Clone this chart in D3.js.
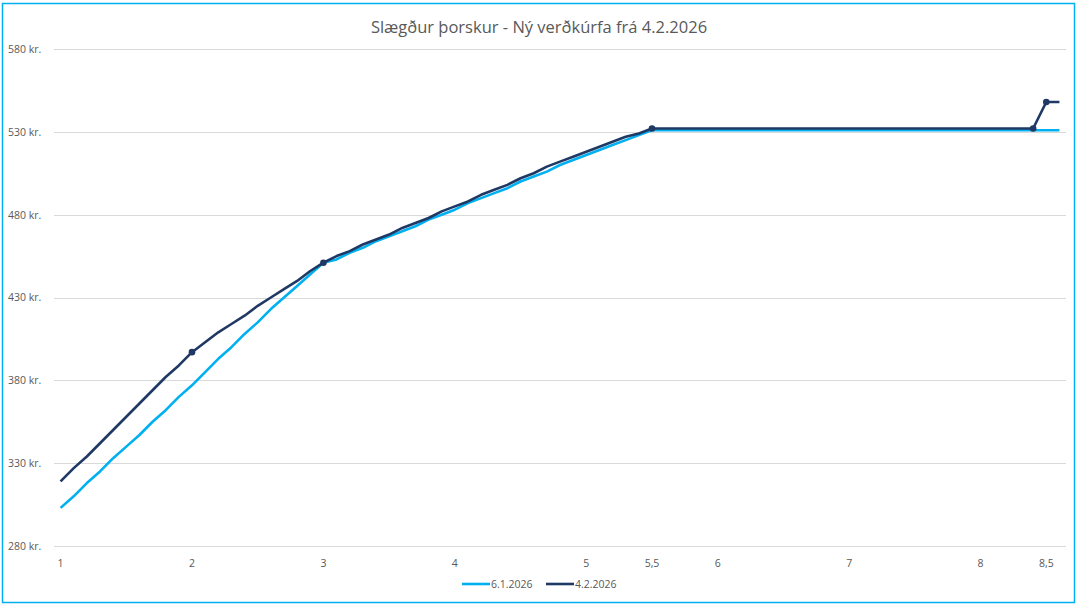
<!DOCTYPE html>
<html><head><meta charset="utf-8">
<script src="https://cdn.jsdelivr.net/npm/d3@7"></script>
<style>body{margin:0;background:#fff}svg{display:block}text{font-family:"Open Sans","Liberation Sans",sans-serif}</style>
</head><body>
<script>
const title = "Slægður þorskur - Ný verðkúrfa frá 4.2.2026";
const categories = [1.0,1.1,1.2,1.3,1.4,1.5,1.6,1.7,1.8,1.9,2.0,2.1,2.2,2.3,2.4,2.5,2.6,2.7,2.8,2.9,3.0,3.1,3.2,3.3,3.4,3.5,3.6,3.7,3.8,3.9,4.0,4.1,4.2,4.3,4.4,4.5,4.6,4.7,4.8,4.9,5.0,5.1,5.2,5.3,5.4,5.5,5.6,5.7,5.8,5.9,6.0,6.1,6.2,6.3,6.4,6.5,6.6,6.7,6.8,6.9,7.0,7.1,7.2,7.3,7.4,7.5,7.6,7.7,7.8,7.9,8.0,8.1,8.2,8.3,8.4,8.5,8.6];
const seriesNames = ["6.1.2026","4.2.2026"];
const values0601 = [303,310,318,325,333,340,347,355,362,370,377,385,393,400,408,415,423,430,437,444,451,453,457,460,464,467,470,473,477,480,483,487,490,493,496,500,503,506,510,513,516,519,522,525,528,531,531,531,531,531,531,531,531,531,531,531,531,531,531,531,531,531,531,531,531,531,531,531,531,531,531,531,531,531,531,531,531];
const values0402 = [319,327,334,342,350,358,366,374,382,389,397,403,409,414,419,425,430,435,440,446,451,455,458,462,465,468,472,475,478,482,485,488,492,495,498,502,505,509,512,515,518,521,524,527,529,532,532,532,532,532,532,532,532,532,532,532,532,532,532,532,532,532,532,532,532,532,532,532,532,532,532,532,532,532,532,548,548];
const markerCats0402 = [2.0,3.0,5.5,8.4,8.5];
const xTickValues = [1,2,3,4,5,5.5,6,7,8,8.5];
const yTickValues = [280,330,380,430,480,530,580];
const colors = ["#00b0f0","#1f3864"];

const W=1078,H=608;
const svg=d3.select("body").append("svg").attr("width",W).attr("height",H);
svg.append("rect").attr("x",2.5).attr("y",3.5).attr("width",1072).attr("height",599)
  .attr("fill","#fff").attr("stroke","#00b0f0").attr("stroke-width",1.5);

const x=d3.scaleBand().domain(categories).range([54,1066]);
const xc=v=>x(v)+x.bandwidth()/2;
const y=d3.scaleLinear().domain([280,580]).range([546,49]);

svg.append("text").attr("x",539).attr("y",33).attr("text-anchor","middle")
  .attr("font-size",16.5).attr("fill","#595959").text(title);

const yAxis=d3.axisLeft(y).tickValues(yTickValues).tickSize(-(1066-54)).tickFormat(d=>d+" kr.");
const gy=svg.append("g").attr("transform","translate(54,0)").call(yAxis);
gy.select(".domain").remove();
gy.selectAll(".tick line").attr("stroke","#d9d9d9").attr("stroke-width",1).attr("shape-rendering","crispEdges");
gy.selectAll(".tick text").attr("x",-46).attr("text-anchor","start").attr("font-size",10.5).attr("fill","#595959");

const xAxis=d3.axisBottom(x).tickValues(xTickValues).tickSize(0).tickFormat(d=>String(d).replace(".",","));
const gx=svg.append("g").attr("transform","translate(0,546)").call(xAxis);
gx.select(".domain").remove();
gx.selectAll(".tick text").attr("dy",0).attr("y",21).attr("font-size",10.5).attr("fill","#595959");

const line=d3.line().x((d,i)=>xc(categories[i])).y(d=>y(d));
[values0601,values0402].forEach((vals,k)=>{
  svg.append("path").datum(vals).attr("d",line).attr("fill","none")
    .attr("stroke",colors[k]).attr("stroke-width",2.6).attr("stroke-linejoin","round");
});
svg.selectAll("circle.m").data(markerCats0402).enter().append("circle")
  .attr("cx",d=>xc(d)).attr("cy",d=>y(values0402[categories.indexOf(d)]))
  .attr("r",3.3).attr("fill",colors[1]);

const lg=svg.append("g");
const lx=[462,546];
seriesNames.forEach((n,k)=>{
  lg.append("line").attr("x1",lx[k]).attr("x2",lx[k]+28).attr("y1",584).attr("y2",584)
    .attr("stroke",colors[k]).attr("stroke-width",2.6);
  lg.append("text").attr("x",lx[k]+29).attr("y",588).attr("font-size",10.5).attr("fill","#595959").text(n);
});
</script>
</body></html>
